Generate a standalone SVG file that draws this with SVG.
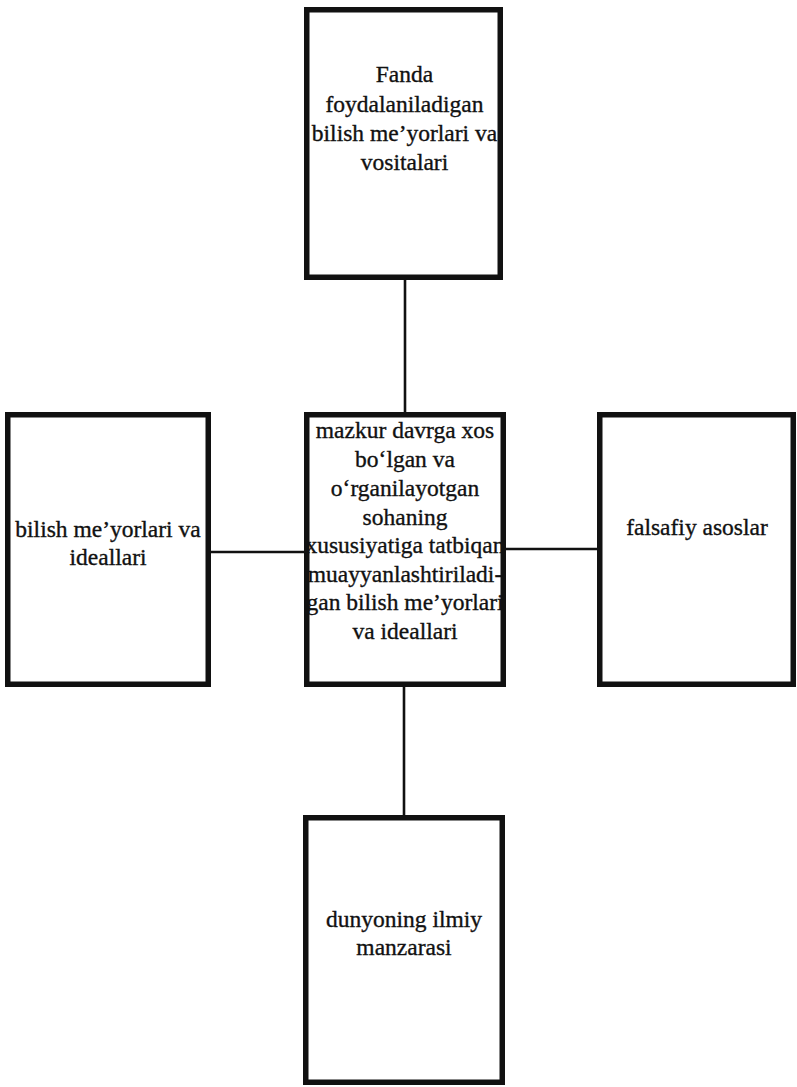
<svg xmlns="http://www.w3.org/2000/svg" width="797" height="1087" viewBox="0 0 797 1087">
<style>
.box{fill:#fff;stroke:#111;stroke-width:5.5}
.con{stroke:#111;stroke-width:2.6;fill:none}
text{font-family:"Liberation Serif","Times New Roman",serif;font-size:23.5px;fill:#111;stroke:#111;stroke-width:0.35;text-anchor:middle}
</style>
<rect width="797" height="1087" fill="#fff"/>
<g id="connectors">
<line class="con" x1="405" y1="278" x2="405" y2="414"/>
<line class="con" x1="209" y1="552" x2="306" y2="552"/>
<line class="con" x1="504" y1="549" x2="599" y2="549"/>
<line class="con" x1="404" y1="685" x2="404" y2="817"/>
</g>
<g id="top">
<rect class="box" x="306.75" y="9.75" width="193.5" height="267.5"/>
<text x="404.5" y="82">Fanda</text>
<text x="404.5" y="112">foydalaniladigan</text>
<text x="404.5" y="141">bilish me’yorlari va</text>
<text x="404.5" y="170">vositalari</text>
</g>
<g id="center">
<rect class="box" x="306.75" y="414.75" width="196.5" height="269.5"/>
<text x="405" y="438">mazkur davrga xos</text>
<text x="405" y="467">bo‘lgan va</text>
<text x="405" y="496">o‘rganilayotgan</text>
<text x="405" y="525">sohaning</text>
<text x="405" y="553">xususiyatiga tatbiqan</text>
<text x="405" y="582">muayyanlashtiriladi-</text>
<text x="405" y="610">gan bilish me’yorlari</text>
<text x="405" y="639">va ideallari</text>
</g>
<g id="left">
<rect class="box" x="7.75" y="414.75" width="200.5" height="269.5"/>
<text x="108" y="537">bilish me’yorlari va</text>
<text x="108" y="565">ideallari</text>
</g>
<g id="right">
<rect class="box" x="599.75" y="414.75" width="193.5" height="269.5"/>
<text x="697" y="535">falsafiy asoslar</text>
</g>
<g id="bottom">
<rect class="box" x="305.75" y="817.75" width="196.5" height="264.5"/>
<text x="404" y="927">dunyoning ilmiy</text>
<text x="404" y="955">manzarasi</text>
</g>
</svg>
